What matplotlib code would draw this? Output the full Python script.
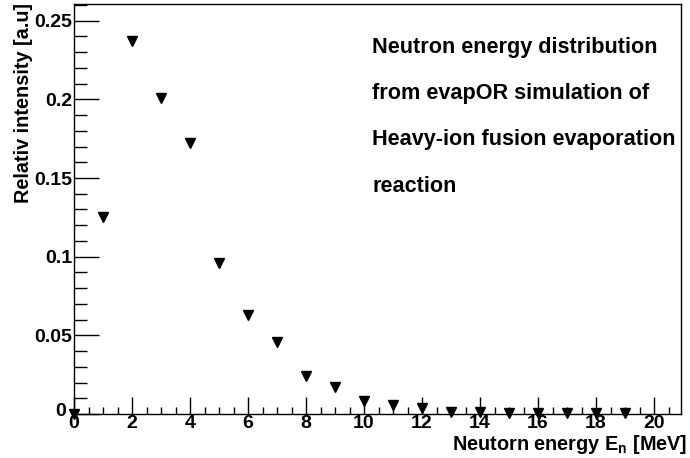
import matplotlib
matplotlib.use("Agg")
import matplotlib.pyplot as plt
from matplotlib.ticker import MultipleLocator, FuncFormatter

energy = [0, 1, 2, 3, 4, 5, 6, 7, 8, 9, 10, 11, 12, 13, 14, 15, 16, 17, 18, 19]
intensity = [0.0, 0.125, 0.237, 0.201, 0.172, 0.096, 0.063, 0.046, 0.024, 0.017,
             0.0085, 0.0055, 0.0035, 0.0015, 0.0013, 0.0008, 0.0007, 0.0005, 0.0005, 0.0004]
text_lines = ["Neutron energy distribution", "from evapOR simulation of",
              "Heavy-ion fusion evaporation", "reaction"]

plt.rcParams['font.family'] = ['Liberation Sans', 'DejaVu Sans']
plt.rcParams['font.weight'] = 'bold'
plt.rcParams['mathtext.fontset'] = 'custom'
plt.rcParams['mathtext.rm'] = 'Liberation Sans:bold'
plt.rcParams['mathtext.bf'] = 'Liberation Sans:bold'
plt.rcParams['mathtext.default'] = 'bf'

fig = plt.figure(figsize=(6.9, 4.58), dpi=100)
ax = fig.add_axes([74/690, 1-414/458, (681-74)/690, (414-4)/458])

ax.plot(energy, intensity, linestyle='none', marker='v', color='black', markersize=7.5,
        clip_on=False, zorder=3)

ax.set_xlim(0, 20.93)
ax.set_ylim(0, 0.2606)

ax.xaxis.set_major_locator(MultipleLocator(2))
ax.xaxis.set_minor_locator(MultipleLocator(0.5))
ax.yaxis.set_major_locator(MultipleLocator(0.05))
ax.yaxis.set_minor_locator(MultipleLocator(0.01))

ax.xaxis.set_major_formatter(FuncFormatter(lambda v, p: f"{int(round(v))}"))
# the y "0" label is drawn separately below, nudged so it does not collide with the x "0"
ax.yaxis.set_major_formatter(FuncFormatter(lambda v, p: "" if abs(v) < 1e-12 else f"{v:g}"))

ax.tick_params(axis='both', which='both', direction='in', top=False, right=False,
               labelsize=14, width=1)
ax.tick_params(axis='x', which='major', length=12, pad=1)
ax.tick_params(axis='x', which='minor', length=5)
ax.tick_params(axis='y', which='major', length=18, pad=1)
ax.tick_params(axis='y', which='minor', length=9)

for sp in ax.spines.values():
    sp.set_linewidth(1)

ax.annotate("0", xy=(0, 0), xycoords='axes fraction', xytext=(-5.5, 1.5),
            textcoords='offset points', ha='right', va='center',
            fontsize=14, fontweight='bold')

fig.text(687/690, 1-456/458, r"Neutorn energy E$_{n}$ [MeV]", ha='right', va='bottom',
         fontsize=14.3, fontweight='bold')
fig.text(24/690, 1-3/458, "Relativ intensity [a.u]", rotation=90, ha='center', va='top',
         fontsize=14.3, fontweight='bold')

ys = [48, 94, 140, 187]
for line, y in zip(text_lines, ys):
    fig.text(372/690, 1-y/458, line, ha='left', va='center', fontsize=15.6, fontweight='bold')

fig.savefig("out.png", dpi=100)
